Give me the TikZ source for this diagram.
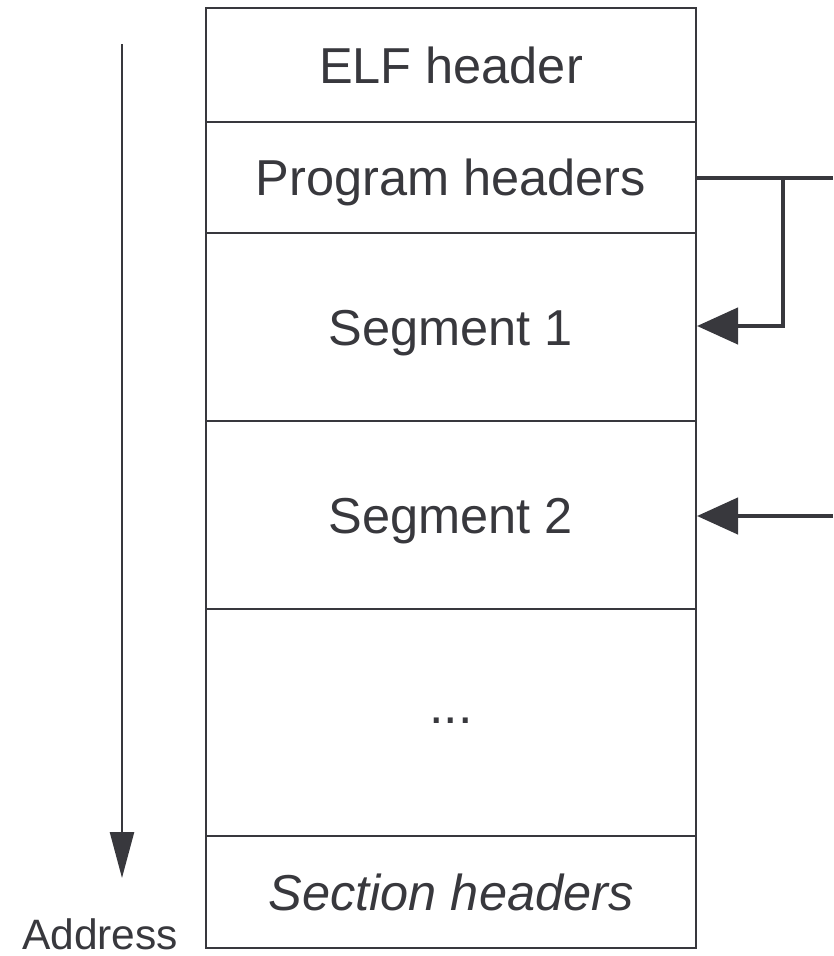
\documentclass[tikz,border=0pt]{standalone}
\usepackage{fontspec}
\setmainfont{Liberation Sans}
\usetikzlibrary{arrows.meta}
\definecolor{ink}{HTML}{38383D}
\tikzset{
  cell/.style={draw=ink, line width=2pt, minimum width=490pt, inner sep=0pt,
    text=ink, font=\fontsize{50.5}{50.5}\selectfont, text height=36pt, text depth=0pt, anchor=north},
  conn/.style={draw=ink, line width=4.5pt, -{Triangle[length=41pt,width=36pt]}},
  plain/.style={draw=ink, line width=4.5pt}
}
\begin{document}
\begin{tikzpicture}[x=1pt,y=-1pt]
\useasboundingbox (0,0) rectangle (833,956);
\node[cell, minimum height=114pt] (elf) at (451,7) {ELF header};
\node[cell, minimum height=111pt] (ph) at (451,121) {Program headers};
\node[cell, minimum height=188pt] (s1) at (451,232) {Segment 1};
\node[cell, minimum height=188pt] (s2) at (451,420) {Segment 2};
\node[cell, minimum height=227pt] (dots) at (451,608) {};
\node[cell, minimum height=112pt] (sh) at (451,835) {\itshape Section headers};
\node[text=ink, font=\fontsize{52}{52}\selectfont, anchor=base, inner sep=0pt] (dt) at (451,723) {...};
\node[text=ink, font=\fontsize{42.5}{42.5}\selectfont, anchor=base west, inner sep=0pt] (addr) at (22,949) {Address};
\coordinate (atop) at (122,44);
\coordinate (abot) at (122,878);
\draw[draw=ink, line width=2.5pt, -{Triangle[length=46pt,width=24pt]}] (atop) -- (abot);
\coordinate (pend) at (833,178);
\coordinate (pj) at (783,178);
\coordinate (s2end) at (833,516);
\draw[plain] (ph.east |- pend) -- (pend);
\draw[conn] (pj) |- (s1.east |- 0,326);
\draw[conn] (s2end) -- (s2.east |- s2end);
\end{tikzpicture}
\end{document}
